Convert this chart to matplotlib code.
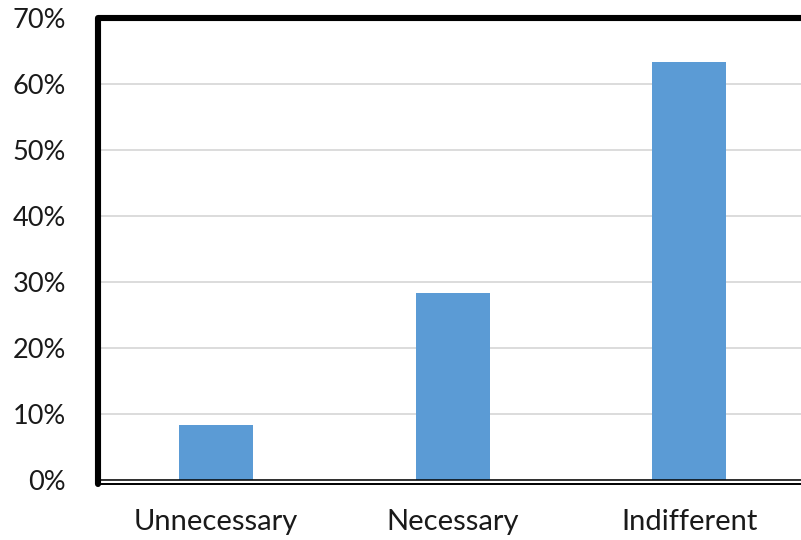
import matplotlib
matplotlib.use("Agg")
import matplotlib.pyplot as plt
from matplotlib.lines import Line2D
from matplotlib.ticker import PercentFormatter

categories = ["Unnecessary", "Necessary", "Indifferent"]
shares = [8.33, 28.33, 63.33]
y_ticks = [0, 10, 20, 30, 40, 50, 60, 70]

W, H = 801, 540
fig = plt.figure(figsize=(W / 100, H / 100), dpi=100)
plt.rcParams['font.family'] = ['Lato', 'DejaVu Sans']

def fx(px):
    return px / W

def fy(py):
    return 1 - py / H

# plot area (pixel edges), extends slightly past the right edge
left_px, top_px, bottom_px, right_px = 98, 18, 479.5, 807.5
ax = fig.add_axes([fx(left_px), fy(bottom_px),
                   fx(right_px) - fx(left_px), fy(top_px) - fy(bottom_px)])

x = range(len(categories))
ax.bar(x, shares, width=0.311, color="#5B9BD5", zorder=3)

ax.set_xlim(-0.5, len(categories) - 0.5)
ax.set_ylim(0, 70)
ax.set_yticks(y_ticks)
ax.yaxis.set_major_formatter(PercentFormatter(decimals=0))
ax.set_xticks(list(x))
ax.set_xticklabels(categories)

text_color = "#1a1a1a"
ax.tick_params(axis="y", length=0, pad=23, labelsize=19.5, labelcolor=text_color)
ax.tick_params(axis="x", length=0, pad=21, labelsize=21, labelcolor=text_color)

ax.grid(axis="y", color="#D9D9D9", linewidth=1.3, zorder=0)
ax.set_axisbelow(True)

for side in ("left", "right", "top"):
    ax.spines[side].set_visible(False)
ax.spines["bottom"].set_color("#000000")
ax.spines["bottom"].set_linewidth(1.1)
ax.spines["bottom"].set_zorder(4)

# outer frame: heavy top and left edges, thin bottom edge
frame_bottom = 483.5
fig.add_artist(Line2D([fx(W + 10), fx(left_px), fx(left_px)],
                      [fy(top_px), fy(top_px), fy(frame_bottom)],
                      color="black", linewidth=4.4, solid_joinstyle="round",
                      solid_capstyle="round"))
fig.add_artist(Line2D([fx(left_px), fx(W + 10)],
                      [fy(frame_bottom), fy(frame_bottom)],
                      color="black", linewidth=1.4))

fig.savefig("out.png", dpi=100, facecolor="white")
